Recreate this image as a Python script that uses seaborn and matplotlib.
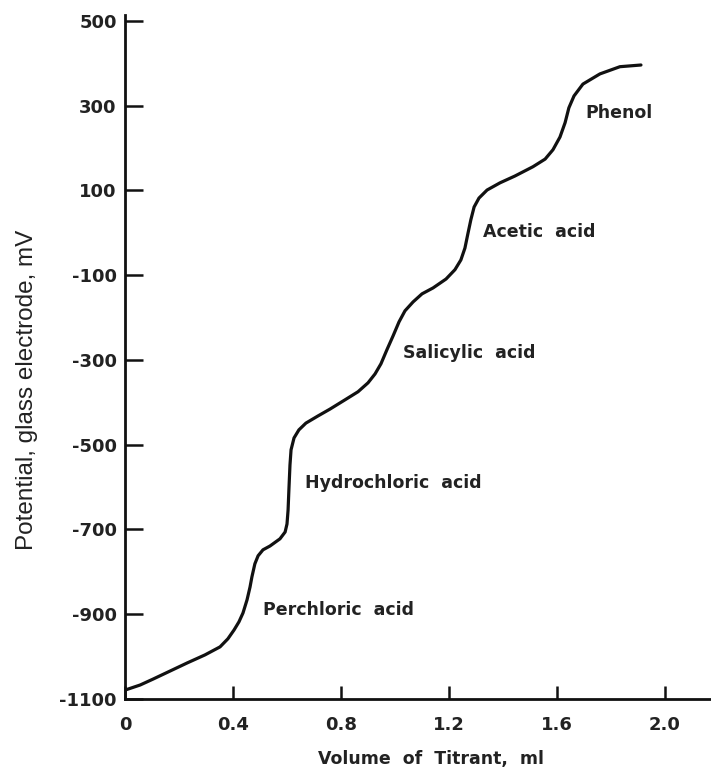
import matplotlib
matplotlib.use("Agg")
import matplotlib.pyplot as plt
import seaborn as sns
import pandas as pd

# Data (volume in ml, potential in mV)
volume = [0.0, 0.056, 0.104, 0.167, 0.230, 0.296, 0.352, 0.381, 0.404, 0.422,
          0.437, 0.452, 0.463, 0.470, 0.481, 0.493, 0.511, 0.537, 0.574, 0.593,
          0.600, 0.604, 0.607, 0.611, 0.615, 0.626, 0.644, 0.670, 0.715, 0.759,
          0.815, 0.863, 0.900, 0.926, 0.948, 0.970, 0.993, 1.015, 1.037, 1.067,
          1.100, 1.141, 1.189, 1.222, 1.244, 1.259, 1.270, 1.281, 1.293, 1.311,
          1.341, 1.389, 1.444, 1.511, 1.556, 1.585, 1.611, 1.630, 1.644, 1.663,
          1.696, 1.759, 1.833, 1.911]
potential = [-1079, -1067, -1053, -1034, -1015, -996, -977, -958, -937, -918,
             -897, -866, -836, -812, -781, -762, -748, -739, -722, -706,
             -687, -654, -607, -548, -512, -484, -465, -449, -432, -416,
             -394, -375, -354, -333, -309, -276, -243, -210, -184, -163,
             -144, -130, -109, -87, -64, -36, -2, 31, 61, 82,
             101, 118, 134, 156, 174, 196, 226, 260, 295, 323,
             351, 375, 392, 396]

acid_names = ["Perchloric  acid", "Hydrochloric  acid", "Salicylic  acid",
              "Acetic  acid", "Phenol"]
acid_x = [0.511, 0.667, 1.030, 1.326, 1.704]
acid_y = [-890, -590, -283, 2, 283]

x_ticks = [0, 0.4, 0.8, 1.2, 1.6, 2.0]
x_tick_labels = ["0", "0.4", "0.8", "1.2", "1.6", "2.0"]
y_ticks = [500, 300, 100, -100, -300, -500, -700, -900, -1100]
y_tick_labels = ["500", "300", "100", "-100", "-300", "-500", "-700", "-900", "-1100"]

df = pd.DataFrame({"Volume": volume, "Potential": potential})

sns.set_theme(style="white")
plt.rcParams["font.family"] = ["DejaVu Sans"]

W, H = 711, 770
fig = plt.figure(figsize=(W / 100, H / 100), dpi=100)
left_px, right_px, top_px, bottom_px = 125, 711, 15, 699
ax = fig.add_axes([left_px / W, (H - bottom_px) / H,
                   (right_px - left_px) / W, (bottom_px - top_px) / H])

sns.lineplot(data=df, x="Volume", y="Potential", ax=ax, color="#111111",
             linewidth=2.3, estimator=None, sort=False)
ax.lines[0].set_solid_joinstyle("round")

ax.set_xlim(0, (right_px - left_px) / 270.0)
ax.set_ylim(-1100, 514)

for s in ["top", "right"]:
    ax.spines[s].set_visible(False)
for s in ["left", "bottom"]:
    ax.spines[s].set_color("#111111")
    ax.spines[s].set_linewidth(2.0)

ax.set_xticks(x_ticks)
ax.set_xticklabels(x_tick_labels)
ax.set_yticks(y_ticks)
ax.set_yticklabels(y_tick_labels)

ax.tick_params(axis="y", direction="in", length=13, width=1.8, color="#111111",
               pad=6, labelsize=13, labelcolor="#222222", left=True)
ax.tick_params(axis="x", direction="in", length=9.5, width=1.8, color="#111111",
               pad=12, labelsize=13, labelcolor="#222222", bottom=True)
for lab in ax.get_xticklabels() + ax.get_yticklabels():
    lab.set_fontweight("bold")

ax.set_xlabel("Volume  of  Titrant,  ml", fontsize=12.5, fontweight="bold",
              color="#222222")
ax.xaxis.set_label_coords((431 - left_px) / (right_px - left_px),
                          -(759 - bottom_px) / (bottom_px - top_px))
ax.xaxis.label.set_va("center")

ax.set_ylabel("Potential, glass electrode, mV", fontsize=17.5,
              family=["Liberation Sans", "DejaVu Sans"], color="#222222")
ax.yaxis.set_label_coords((27 - left_px) / (right_px - left_px),
                          (bottom_px - 390) / (bottom_px - top_px))
ax.yaxis.label.set_va("center")
ax.yaxis.label.set_ha("center")

for name, xv, yv in zip(acid_names, acid_x, acid_y):
    ax.text(xv, yv, name, fontsize=12.5, fontweight="bold", color="#222222",
            ha="left", va="center")

ax.grid(False)
fig.savefig("out.png", dpi=100, facecolor="white")
